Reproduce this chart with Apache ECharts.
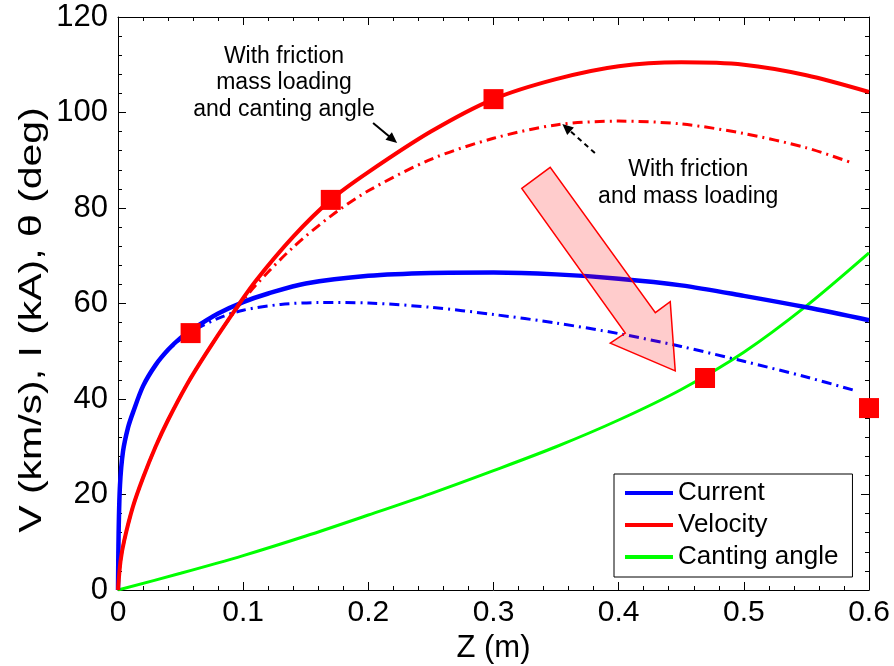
<!DOCTYPE html>
<html>
<head>
<meta charset="utf-8">
<script src="https://cdn.jsdelivr.net/npm/echarts@6/dist/echarts.min.js"></script>
<style>
html,body{margin:0;padding:0;background:#fff;}
#chart{width:894px;height:666px;}
</style>
</head>
<body>
<div id="chart"></div>
<script>
// ---- data ----
const xTickLabels = ['0', '0.1', '0.2', '0.3', '0.4', '0.5', '0.6'];
const yTickLabels = ['0', '20', '40', '60', '80', '100', '120'];

// Current, with friction, mass loading and canting angle (solid blue)
const zCurrent = [0, 0.0005, 0.0016, 0.004, 0.008, 0.012, 0.02, 0.03, 0.04, 0.05, 0.06, 0.08, 0.1, 0.12, 0.15, 0.2, 0.25, 0.3, 0.35, 0.4, 0.45, 0.5, 0.55, 0.6];
const currentSolid = [0, 12, 22, 29, 34, 37.2, 42.7, 47.1, 50.3, 52.8, 54.7, 57.9, 60.3, 62.1, 64.2, 65.8, 66.4, 66.5, 66.1, 65.2, 63.8, 61.6, 59.2, 56.5];
// Current, with friction and mass loading (dash-dot blue)
const zCurrentDash = [0, 0.0005, 0.0016, 0.004, 0.008, 0.012, 0.02, 0.03, 0.04, 0.05, 0.06, 0.08, 0.1, 0.13, 0.16, 0.2, 0.25, 0.3, 0.35, 0.4, 0.45, 0.5, 0.55, 0.587];
const currentDash = [0, 12, 22, 29, 34, 37.2, 42.7, 47.1, 50.2, 52.5, 54.3, 56.9, 58.6, 59.8, 60.2, 60.1, 59.2, 57.7, 55.9, 53.7, 51.0, 47.9, 44.6, 41.9];

// Velocity (solid red)
const zVelocity = [0, 0.002, 0.005, 0.012, 0.02, 0.03, 0.04, 0.055, 0.07, 0.09, 0.11, 0.14, 0.17, 0.2, 0.25, 0.3, 0.35, 0.4, 0.45, 0.5, 0.55, 0.6];
const velocitySolid = [0, 6, 10.4, 17.5, 23.5, 30, 35.6, 43, 49.4, 57.3, 64.7, 74, 81.7, 87.5, 96, 102.8, 107, 109.7, 110.5, 110, 107.8, 104.3];
// Velocity (dash-dot red)
const zVelocityDash = [0, 0.002, 0.005, 0.012, 0.02, 0.03, 0.04, 0.055, 0.07, 0.09, 0.11, 0.14, 0.17, 0.2, 0.25, 0.3, 0.35, 0.4, 0.45, 0.5, 0.55, 0.587];
const velocityDash = [0, 6, 10.4, 17.5, 23.5, 30, 35.6, 43, 49.4, 57.2, 63.8, 71.8, 78.3, 83.6, 90.2, 94.6, 97.4, 98.2, 97.6, 95.6, 92.6, 89.4];

// Canting angle (green)
const zAngle = [0, 0.05, 0.1, 0.15, 0.2, 0.25, 0.3, 0.35, 0.4, 0.45, 0.5, 0.55, 0.6];
const cantingAngle = [0, 3.5, 7.2, 11.3, 15.7, 20.2, 25.0, 30.0, 35.6, 42.0, 49.8, 59.5, 70.6];

// Square markers
const markerZ = [0.058, 0.17, 0.3, 0.469, 0.6];
const markerV = [53.8, 81.7, 102.8, 44.4, 38.1];

const pairs = (xs, ys) => xs.map((x, i) => [x, ys[i]]);

const chart = echarts.init(document.getElementById('chart'), null, {renderer: 'canvas'});

const FONT = "'Liberation Sans', Arial, Helvetica, sans-serif";

const axisCommon = {
  type: 'value',
  axisLine: {show: true, onZero: false, lineStyle: {color: '#000', width: 1}},
  axisTick: {show: true, inside: true, length: 8, lineStyle: {color: '#000', width: 1}},
  minorTick: {show: true, splitNumber: 5, length: 4, lineStyle: {color: '#000', width: 1}},
  splitLine: {show: false},
  minorSplitLine: {show: false}
};

const xCommon = Object.assign({}, axisCommon, {min: 0, max: 0.6, interval: 0.1});
const yCommon = Object.assign({}, axisCommon, {min: 0, max: 120, interval: 20});

const option = {
  animation: false,
  backgroundColor: '#fff',
  grid: {left: 118, right: 25, top: 17, bottom: 76, containLabel: false, outerBoundsMode: 'none'},
  xAxis: [
    Object.assign({}, xCommon, {
      position: 'bottom',
      name: 'Z (m)',
      nameLocation: 'middle',
      nameGap: 39,
      nameTextStyle: {fontFamily: FONT, fontSize: 31, color: '#000'},
      axisLabel: {
        margin: 8,
        fontFamily: FONT, fontSize: 30, color: '#000',
        formatter: v => xTickLabels[Math.round(v / 0.1)]
      }
    }),
    Object.assign({}, xCommon, {position: 'top', axisLabel: {show: false}})
  ],
  yAxis: [
    Object.assign({}, yCommon, {
      position: 'left',
      axisLabel: {
        margin: 10,
        fontFamily: FONT, fontSize: 31, color: '#000',
        formatter: v => yTickLabels[Math.round(v / 20)]
      }
    }),
    Object.assign({}, yCommon, {position: 'right', axisLabel: {show: false}})
  ],
  legend: {
    left: 614, top: 474,
    orient: 'vertical',
    data: ['Current', 'Velocity', 'Canting angle'],
    icon: 'rect',
    itemWidth: 48, itemHeight: 4,
    itemGap: 6,
    padding: [6, 14, 7, 11],
    borderColor: '#000', borderWidth: 1,
    backgroundColor: '#fff',
    selectedMode: false,
    textStyle: {fontFamily: FONT, fontSize: 26, color: '#000', lineHeight: 26}
  },
  series: [
    {
      name: 'Canting angle', type: 'line', data: pairs(zAngle, cantingAngle),
      smooth: 0.3, showSymbol: false, z: 2,
      lineStyle: {color: '#00ff00', width: 3}, itemStyle: {color: '#00ff00'}
    },
    {
      name: 'Current (friction, mass loading)', type: 'line', data: pairs(zCurrentDash, currentDash),
      smooth: 0.3, showSymbol: false, z: 2,
      lineStyle: {color: '#0000ff', width: 3, type: [10, 5, 2, 5]}, itemStyle: {color: '#0000ff'}
    },
    {
      name: 'Velocity (friction, mass loading)', type: 'line', data: pairs(zVelocityDash, velocityDash),
      smooth: 0.3, showSymbol: false, z: 2,
      lineStyle: {color: '#ff0000', width: 3, type: [10, 5, 2, 5]}, itemStyle: {color: '#ff0000'}
    },
    {
      name: 'Current', type: 'line', data: pairs(zCurrent, currentSolid),
      smooth: 0.3, showSymbol: false, z: 3,
      lineStyle: {color: '#0000ff', width: 4.5}, itemStyle: {color: '#0000ff'}
    },
    {
      name: 'Velocity', type: 'line', data: pairs(zVelocity, velocitySolid),
      smooth: 0.3, showSymbol: false, z: 3,
      lineStyle: {color: '#ff0000', width: 4}, itemStyle: {color: '#ff0000'}
    },
    {
      name: 'Markers', type: 'scatter', data: pairs(markerZ, markerV),
      symbol: 'rect', symbolSize: 20, z: 5,
      itemStyle: {color: '#ff0000', opacity: 1}
    }
  ]
};

chart.setOption(option);

// ---- annotations (positions given in data coordinates) ----
const px = (z, v) => chart.convertToPixel({seriesIndex: 0}, [z, v]);

const bigArrowData = [[0.3226, 84.1], [0.3453, 88.5], [0.4293, 58.1], [0.4412, 60.4], [0.4452, 45.9], [0.3933, 51.7], [0.4053, 53.8]];
const arrow1 = {from: [0.2038, 97.8], to: [0.223, 93.6]};
const arrow2 = {from: [0.381, 91.5], to: [0.355, 97.6]};
const note1 = {at: [0.1326, 106.2], lines: ['With friction', 'mass loading', 'and canting angle']};
const note2 = {at: [0.4556, 85.25], lines: ['With friction', 'and mass loading']};

function arrowElems(a, dashed) {
  const p0 = px(a.from[0], a.from[1]);
  const p1 = px(a.to[0], a.to[1]);
  const dx = p1[0] - p0[0], dy = p1[1] - p0[1];
  const L = Math.sqrt(dx * dx + dy * dy);
  const ux = dx / L, uy = dy / L;
  const hl = 11, hw = 5;
  const bx = p1[0] - ux * hl, by = p1[1] - uy * hl;
  return [
    {
      type: 'line', z: 20,
      shape: {x1: p0[0], y1: p0[1], x2: bx + ux * 2, y2: by + uy * 2},
      style: {stroke: '#000', lineWidth: 2, lineDash: dashed ? [5, 4] : null}
    },
    {
      type: 'polygon', z: 20,
      shape: {points: [[p1[0], p1[1]], [bx - uy * hw, by + ux * hw], [bx + uy * hw, by - ux * hw]]},
      style: {fill: '#000'}
    }
  ];
}

function noteElem(n) {
  const p = px(n.at[0], n.at[1]);
  return {
    type: 'text', z: 20, x: p[0], y: p[1],
    style: {
      text: n.lines.join('\n'),
      fontFamily: FONT, fontSize: 23, lineHeight: 26.5,
      fill: '#000', align: 'center', verticalAlign: 'middle'
    }
  };
}

const graphics = [];
graphics.push({
  type: 'polygon', z: 15,
  shape: {points: bigArrowData.map(d => px(d[0], d[1]))},
  style: {fill: 'rgba(255,0,0,0.2)', stroke: '#ff0000', lineWidth: 1.5}
});
graphics.push(...arrowElems(arrow1, false));
graphics.push(...arrowElems(arrow2, true));
graphics.push(noteElem(note1));
graphics.push(noteElem(note2));
// y-axis title (stretched along its length like the reference)
graphics.push({
  type: 'text', z: 20, x: 32, y: 320, rotation: Math.PI / 2,
  scaleX: 1.28,
  style: {
    text: 'V (km/s), I (kA), θ (deg)',
    fontFamily: FONT, fontSize: 32,
    fill: '#000', align: 'center', verticalAlign: 'middle'
  }
});

chart.setOption({graphic: graphics});
</script>
</body>
</html>
